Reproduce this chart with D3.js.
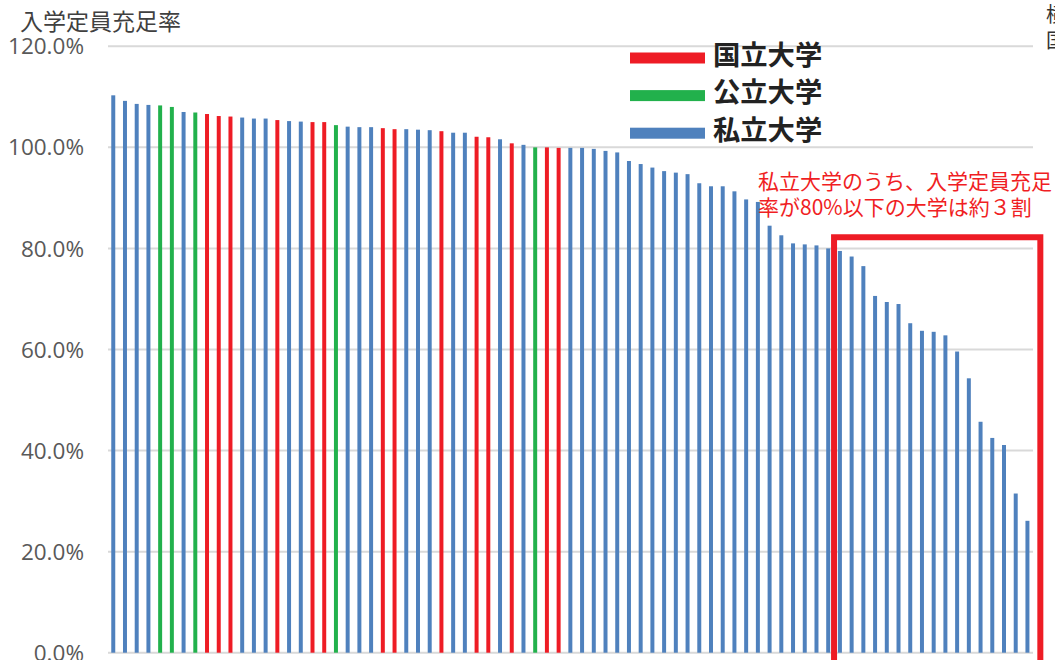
<!DOCTYPE html>
<html>
<head>
<meta charset="utf-8">
<script src="https://cdn.jsdelivr.net/npm/d3@7/dist/d3.min.js"></script>
<style>
  html, body { margin: 0; padding: 0; background: #ffffff; }
  svg { display: block; }
</style>
</head>
<body>
<svg id="chart" width="1055" height="660"></svg>
<script>
// ---- data ----
const rates = [
  110.3, 109.2, 108.6, 108.4, 108.3, 108.0, 107.0, 106.9, 106.6, 106.2,
  106.1, 105.9, 105.7, 105.7, 105.4, 105.2, 105.1, 105.0, 105.0, 104.4,
  104.1, 104.0, 104.0, 103.8, 103.6, 103.6, 103.5, 103.4, 103.2, 102.9,
  102.9, 102.1, 102.0, 101.6, 100.8, 100.5, 100.0, 100.0, 99.9, 99.9,
  99.9, 99.7, 99.3, 99.0, 97.3, 96.7, 96.0, 95.3, 95.0, 94.7,
  92.9, 92.3, 92.3, 91.3, 89.7, 89.2, 84.5, 82.6, 81.0, 80.8,
  80.6, 80.0, 79.5, 78.4, 76.5, 70.6, 69.4, 69.0, 65.2, 63.7,
  63.5, 62.8, 59.6, 54.3, 45.7, 42.5, 41.1, 31.5, 26.1
];
const types = [
  "私立","私立","私立","私立","公立","公立","私立","公立","国立","国立",
  "国立","私立","私立","私立","国立","私立","私立","国立","国立","公立",
  "私立","私立","私立","国立","国立","私立","私立","私立","国立","私立",
  "私立","国立","国立","私立","国立","私立","公立","国立","国立","私立",
  "私立","私立","私立","私立","私立","私立","私立","私立","私立","私立",
  "私立","私立","私立","私立","私立","私立","私立","私立","私立","私立",
  "私立","私立","私立","私立","私立","私立","私立","私立","私立","私立",
  "私立","私立","私立","私立","私立","私立","私立","私立","私立"
];
const universities = rates.map((_, i) => "大学" + (i + 1));
const yTicks = [0, 20, 40, 60, 80, 100, 120];
const legendTypes = ["国立", "公立", "私立"];
const legendLabels = ["国立大学", "公立大学", "私立大学"];
const typeColors = ["#ee1c25", "#22b14c", "#4f81bd"];
const yTitle = "入学定員充足率";
const noteLines = ["私立大学のうち、入学定員充足", "率が80%以下の大学は約３割"];
const noteThreshold = 80;
const noteBoxTop = 82.2;

// ---- scales ----
const svg = d3.select("#chart");
const x = d3.scaleBand()
  .domain(universities)
  .range([107.4, 1033.3])
  .paddingInner(0.66)
  .paddingOuter(0.33);
const y = d3.scaleLinear().domain([0, 120]).range([652.7, 46.3]);
const color = d3.scaleOrdinal().domain(legendTypes).range(typeColors);
const fmt = d3.format(".1f");

// gridlines
svg.append("g")
  .selectAll("line")
  .data(yTicks)
  .join("line")
  .attr("x1", 108)
  .attr("x2", 1033)
  .attr("y1", d => y(d))
  .attr("y2", d => y(d))
  .attr("stroke", "#d9d9d9")
  .attr("stroke-width", 2);

// y axis labels
svg.append("g")
  .selectAll("text")
  .data(yTicks)
  .join("text")
  .attr("x", 84)
  .attr("y", d => y(d))
  .attr("dy", "0.36em")
  .attr("text-anchor", "end")
  .attr("font-family", "'Open Sans', 'Noto Sans', sans-serif")
  .attr("font-size", 22.5)
  .attr("fill", "#595959")
  .text(d => fmt(d) + "%");

// axis title
svg.append("text")
  .attr("x", 20)
  .attr("y", 30)
  .attr("font-family", "'Noto Sans CJK JP', sans-serif")
  .attr("font-size", 23)
  .attr("fill", "#404040")
  .text(yTitle);

// bars
svg.append("g")
  .selectAll("rect")
  .data(rates.map((v, i) => ({ id: universities[i], v, t: types[i] })))
  .join("rect")
  .attr("x", d => x(d.id))
  .attr("width", x.bandwidth())
  .attr("y", d => y(d.v))
  .attr("height", d => y(0) - y(d.v))
  .attr("fill", d => color(d.t));

// legend
const lg = svg.append("g");
legendTypes.forEach((t, i) => {
  const cy = 58 + i * 37.6;
  lg.append("rect")
    .attr("x", 630).attr("y", cy - 5.5)
    .attr("width", 75).attr("height", 11)
    .attr("fill", color(t));
  lg.append("text")
    .attr("x", 713).attr("y", cy + 6.5)
    .attr("font-family", "'Noto Sans CJK JP', sans-serif")
    .attr("font-weight", 700)
    .attr("font-size", 27.3)
    .attr("fill", "#222222")
    .text(legendLabels[i]);
});

// annotation box: around private universities below threshold
const firstLow = rates.findIndex((v, i) => types[i] === "私立" && v < noteThreshold);
const step = x.step();
const boxLeft = x(universities[firstLow]) + x.bandwidth() / 2 - step / 2;
const boxRight = x(universities[universities.length - 1]) + x.bandwidth() / 2 + step * 1.1;
svg.append("path")
  .attr("d", `M${boxLeft},700 V${y(noteBoxTop)} H${boxRight} V700`)
  .attr("fill", "none")
  .attr("stroke", "#ee1c25")
  .attr("stroke-width", 6);

svg.append("g")
  .selectAll("text")
  .data(noteLines)
  .join("text")
  .attr("x", 758)
  .attr("y", (d, i) => 189 + i * 26)
  .attr("font-family", "'Noto Sans CJK JP', sans-serif")
  .attr("font-size", 21)
  .attr("fill", "#f01e23")
  .text(d => d);

// clipped text at right edge
svg.append("g")
  .selectAll("text")
  .data(["横", "国"])
  .join("text")
  .attr("x", 1046)
  .attr("y", (d, i) => 22 + i * 26)
  .attr("font-family", "'Noto Sans CJK JP', sans-serif")
  .attr("font-size", 20)
  .attr("fill", "#333333")
  .text(d => d);
</script>
</body>
</html>
